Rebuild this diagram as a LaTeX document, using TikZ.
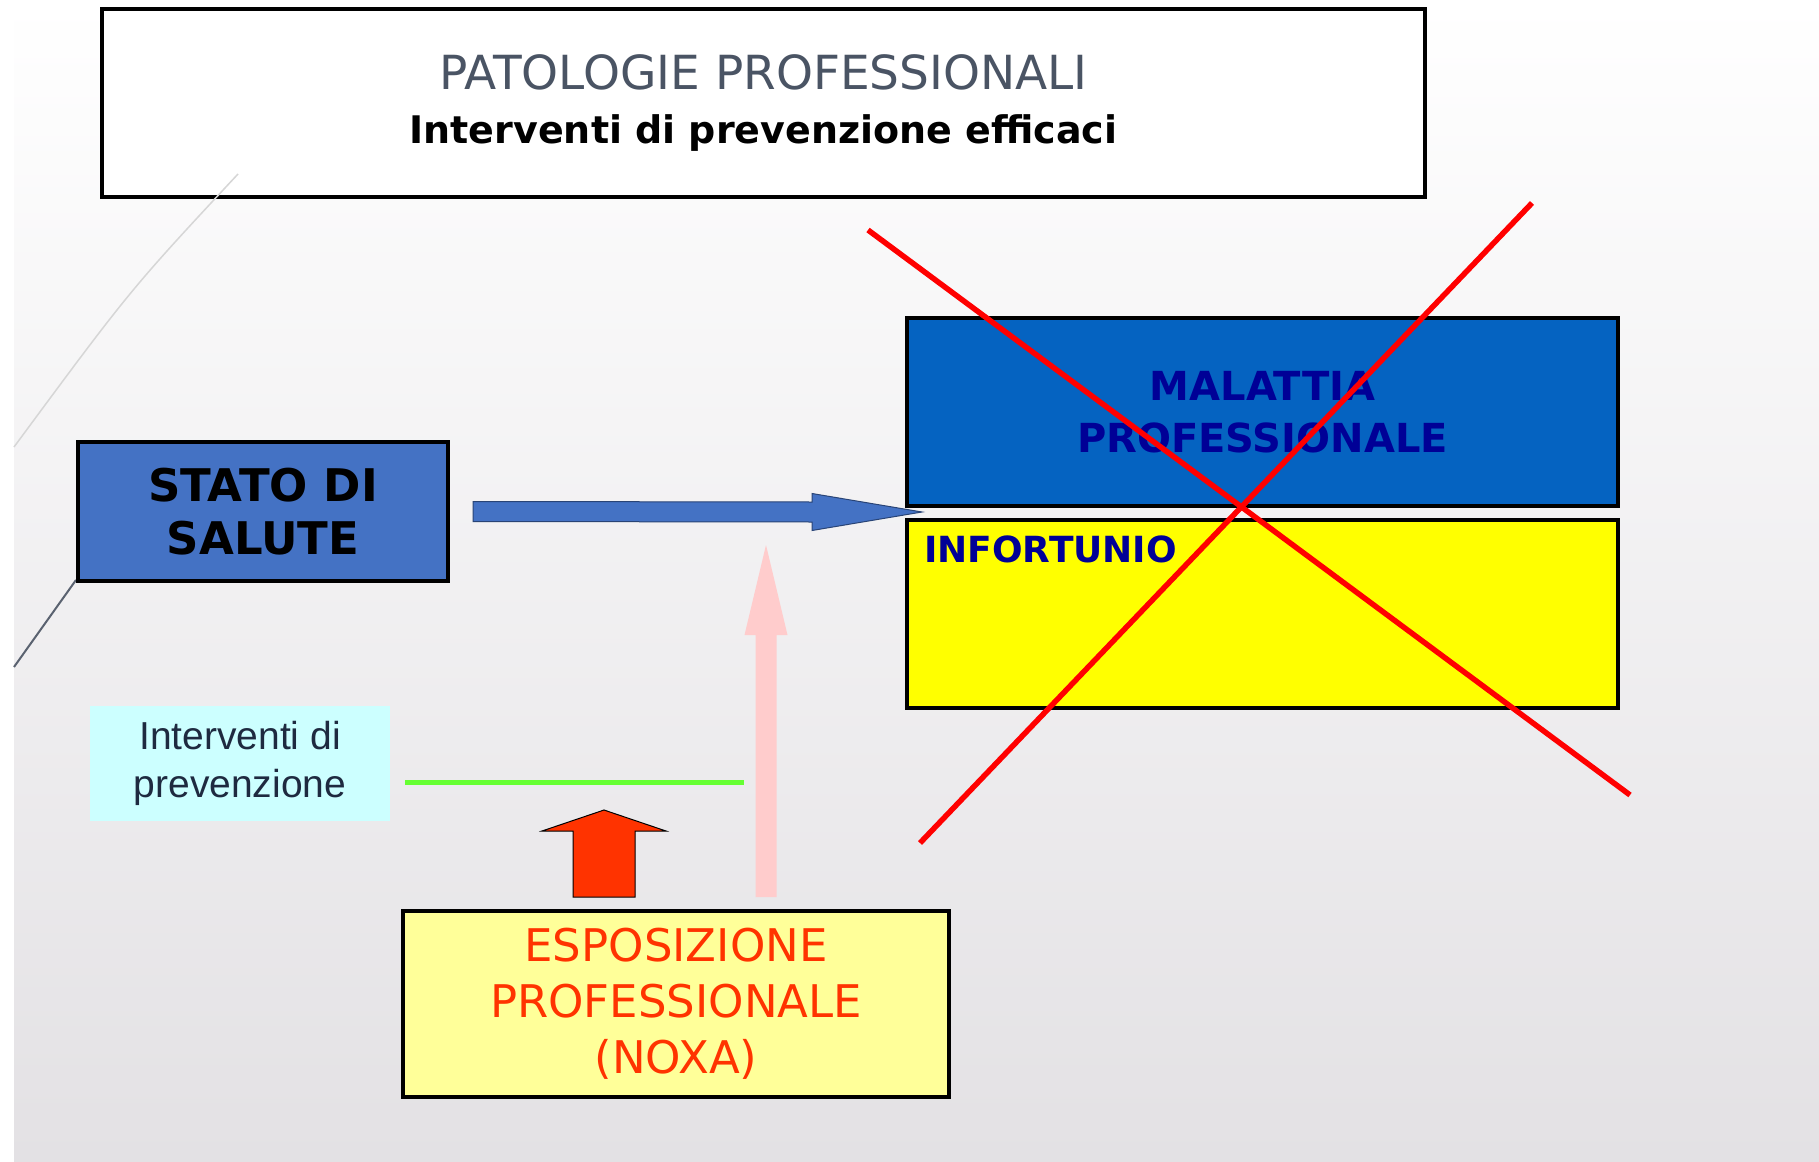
\documentclass[tikz,border=0pt]{standalone}
\usepackage{fontspec}
\setmainfont{DejaVu Sans}
\newfontfamily\arialfont{Liberation Sans}
\usetikzlibrary{arrows.meta,positioning}
\definecolor{slatetext}{RGB}{74,84,100}
\definecolor{statoblue}{RGB}{68,114,196}
\definecolor{malattiablue}{RGB}{5,99,193}
\definecolor{navytext}{RGB}{0,0,150}
\definecolor{infyellow}{RGB}{255,255,0}
\definecolor{noxafill}{RGB}{255,255,153}
\definecolor{noxared}{RGB}{255,51,0}
\definecolor{pinkarrow}{RGB}{255,204,204}
\definecolor{prevgreen}{RGB}{102,255,51}
\definecolor{prevcyan}{RGB}{204,255,255}
\definecolor{prevtext}{RGB}{30,42,64}
\definecolor{arcgray}{RGB}{90,98,112}
\definecolor{bgbottom}{RGB}{227,225,228}

\begin{document}
\begin{tikzpicture}[x=1pt, y=-1pt,
  box/.style={rectangle, draw=black, line width=4pt, inner sep=0pt, align=center},
  cross/.style={draw=red, line width=5.5pt},
  blockarrow/.style={line width=1pt, line join=miter}
]
% background
\useasboundingbox (0,0) rectangle (1819,1161);
\fill[white] (0,0) rectangle (1819,1161);
\shade[top color=white, bottom color=bgbottom] (14,0) rectangle (1819,1161);

% boxes
\node[box, line width=3.5pt, fill=white, minimum width=1323, minimum height=188,
  font=\fontsize{47}{54}\selectfont] (title) at (763.5,103)
  {{\color{slatetext}PATOLOGIE PROFESSIONALI}\\
   {\fontsize{38}{46}\selectfont\bfseries Interventi di prevenzione efficaci}};
\draw[black!16, line width=1.5pt] (238,174) .. controls (130,290) .. (14,447);
\draw[arcgray, line width=2pt] (76,580) -- (14,667);
\node[box, fill=statoblue, minimum width=370, minimum height=139, font=\fontsize{45}{53}\selectfont\bfseries] (stato) at (263,511.5)
  {STATO DI\\SALUTE};
\node[box, fill=malattiablue, minimum width=711, minimum height=188, text=navytext, font=\fontsize{40}{52}\selectfont\bfseries] (malattia) at (1262.5,412)
  {MALATTIA\\PROFESSIONALE};
\node[box, fill=infyellow, minimum width=711, minimum height=188] (infortunio) at (1262.5,614) {};
\node[anchor=west, inner sep=0pt, text=navytext, font=\fontsize{36}{44}\selectfont\bfseries] (inflabel)
  at ([xshift=19pt, yshift=-31pt]infortunio.north west) {INFORTUNIO};
\node[rectangle, fill=prevcyan, minimum width=300, minimum height=115, inner sep=0pt, align=center,
  text=prevtext, font=\arialfont\fontsize{39}{48}\selectfont] (prev) at (240,763.5)
  {Interventi di\\prevenzione};
\node[box, line width=4.5pt, fill=noxafill, minimum width=546, minimum height=186, text=noxared,
  font=\fontsize{45}{56}\selectfont] (noxa) at (676,1004)
  {ESPOSIZIONE\\PROFESSIONALE\\(NOXA)};

% connectors
\coordinate (saluteout) at ([xshift=23pt]stato.east);
\coordinate (salutetip) at (922,512);
\filldraw[blockarrow, fill=statoblue, draw=statoblue!60!black]
  ([yshift=10pt]saluteout) -- ([xshift=-110pt, yshift=10pt]salutetip) -- ([xshift=-110pt, yshift=18.5pt]salutetip)
  -- (salutetip) -- ([xshift=-110pt, yshift=-18.5pt]salutetip) -- ([xshift=-110pt, yshift=-10pt]salutetip)
  -- ([yshift=-10pt]saluteout) -- cycle;

\coordinate (noxaout) at (766,897);
\coordinate (noxatip) at (766,545);
\fill[pinkarrow]
  ([xshift=-10.5pt]noxaout) -- ([xshift=-10.5pt, yshift=-90pt]noxatip) -- ([xshift=-21.5pt, yshift=-90pt]noxatip)
  -- (noxatip) -- ([xshift=21.5pt, yshift=-90pt]noxatip) -- ([xshift=10.5pt, yshift=-90pt]noxatip)
  -- ([xshift=10.5pt]noxaout) -- cycle;

\coordinate (pushbase) at (604,897);
\coordinate (pushtip) at (604,810);
\filldraw[blockarrow, fill=noxared, draw=black]
  ([xshift=-31pt]pushbase) -- ([xshift=-31pt, yshift=-21pt]pushtip) -- ([xshift=-62pt, yshift=-21pt]pushtip)
  -- (pushtip) -- ([xshift=62pt, yshift=-21pt]pushtip) -- ([xshift=31pt, yshift=-21pt]pushtip)
  -- ([xshift=31pt]pushbase) -- cycle;

\coordinate (barrierstart) at (405,782);
\coordinate (barrierend) at (744,782);
\draw[prevgreen, line width=5pt] (barrierstart) -- (barrierend);

% red cross
\coordinate (crossa) at (868,230);
\coordinate (crossb) at (1630,795);
\coordinate (crossc) at (1532,203);
\coordinate (crossd) at (920,843);
\draw[cross] (crossa) -- (crossb);
\draw[cross] (crossc) -- (crossd);
\end{tikzpicture}
\end{document}
